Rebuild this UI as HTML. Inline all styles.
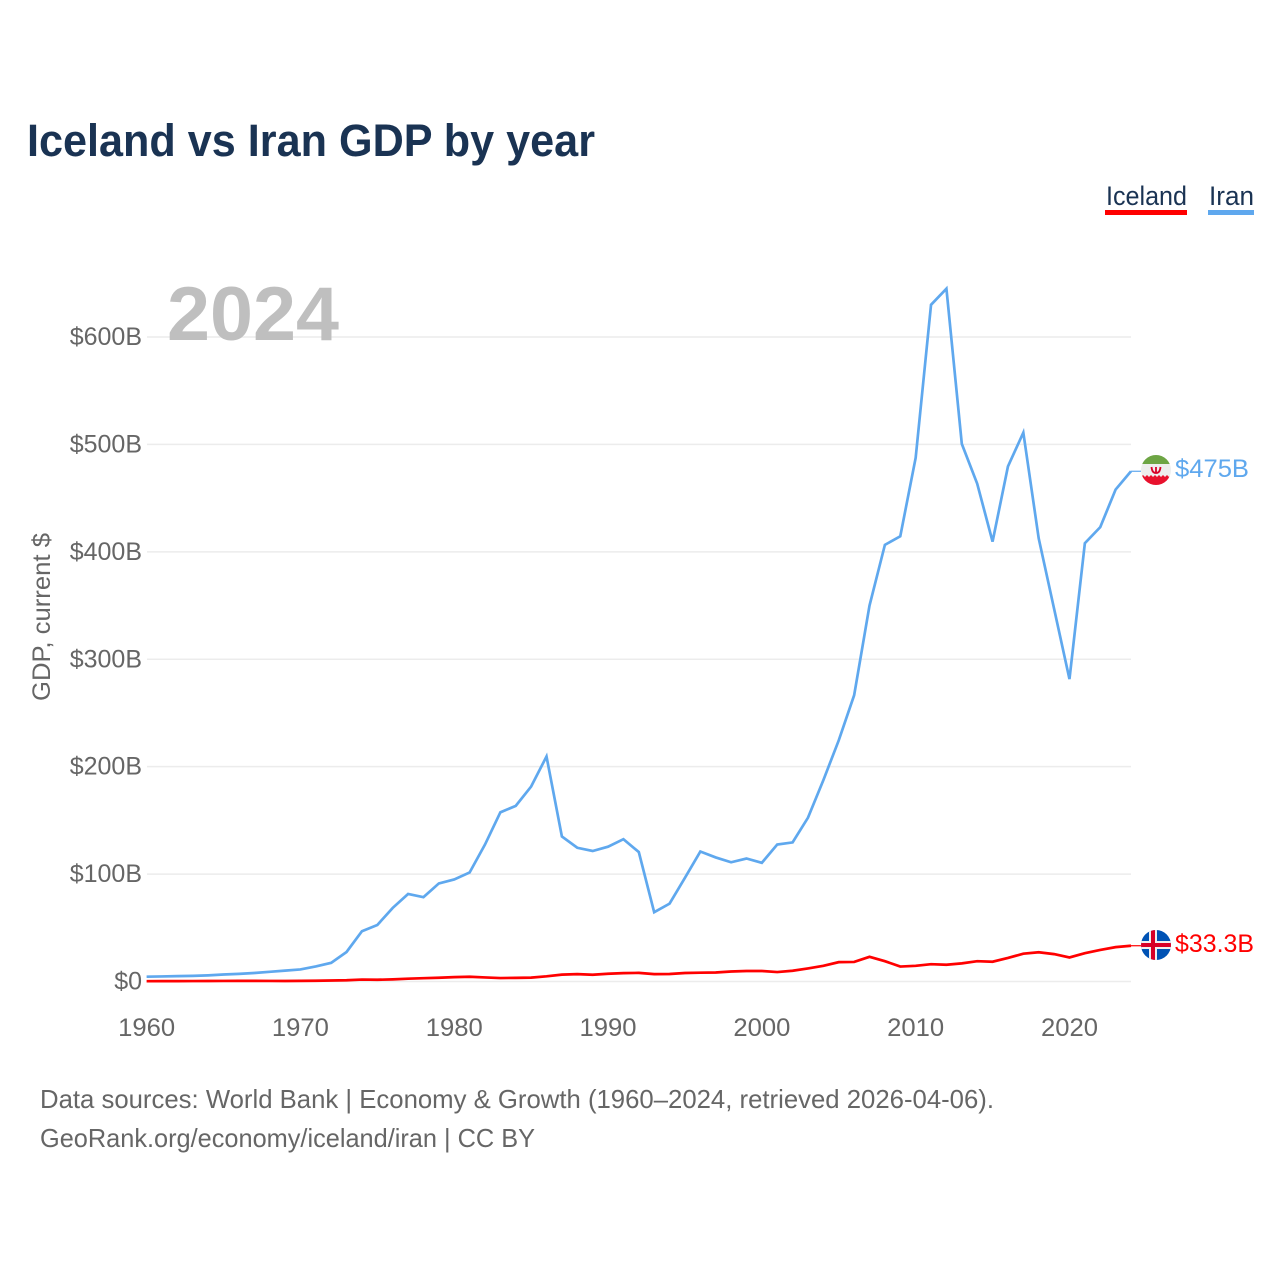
<!DOCTYPE html>
<html lang="en">
<head>
<meta charset="utf-8">
<title>Iceland vs Iran GDP by year</title>
<style>
html,body{margin:0;padding:0;background:#fff;width:1280px;height:1280px;overflow:hidden}
svg{display:block}
text{font-family:"Liberation Sans",sans-serif}
</style>
</head>
<body>
<svg id="chart" width="1280" height="1280" viewBox="0 0 1280 1280" xmlns="http://www.w3.org/2000/svg">
  <defs>
    <clipPath id="iran-clip"><circle cx="1156" cy="470" r="15"/></clipPath>
    <clipPath id="iceland-clip"><circle cx="1156" cy="945" r="15"/></clipPath>
  </defs>
  <rect width="1280" height="1280" fill="#fff"/>
  <text x="27" y="156" font-size="45" font-weight="700" fill="#1a3353" textLength="568" lengthAdjust="spacingAndGlyphs">Iceland vs Iran GDP by year</text>

  <g>
    <text x="1106" y="205" font-size="27" fill="#1a3353" textLength="81" lengthAdjust="spacingAndGlyphs">Iceland</text>
    <rect x="1105" y="210" width="82" height="5" fill="#ff0000"/>
  </g>
  <g>
    <text x="1209" y="205" font-size="27" fill="#1a3353" textLength="45" lengthAdjust="spacingAndGlyphs">Iran</text>
    <rect x="1208" y="210" width="46" height="5" fill="#5fa8ee"/>
  </g>

  <g id="grid"></g>
  <g id="y-ticks"></g>
  <g id="x-ticks"></g>

  <text x="167" y="340" font-size="76" font-weight="700" fill="#bfbfbf" textLength="172" lengthAdjust="spacingAndGlyphs">2024</text>

  <text transform="translate(50,701) rotate(-90)" font-size="25" fill="#666" textLength="168" lengthAdjust="spacingAndGlyphs">GDP, current $</text>

  <g id="series"></g>

  <g>
    <g clip-path="url(#iran-clip)">
      <rect x="1141" y="455" width="30" height="30" fill="#eeeeee"/>
      <rect x="1141" y="455" width="30" height="9" fill="#6da544"/>
      <rect x="1141" y="477" width="30" height="8" fill="#e8112d"/>
      <path d="M1141 477 l2 -2 2 2 2 -2 2 2 2 -2 2 2 2 -2 2 2 2 -2 2 2 2 -2 2 2 2 -2 2 2 2 -2 v2 z" fill="#e8112d"/>
      <path d="M1151.500 467 q0.500 6 4.500 6 q4 0 4.500 -6 M1156 467 v6" fill="none" stroke="#d80027" stroke-width="1.800"/>
    </g>
  </g>
  <g>
    <g clip-path="url(#iceland-clip)">
      <rect x="1141" y="930" width="30" height="30" fill="#0052b4"/>
      <rect x="1141" y="941" width="30" height="8" fill="#f0f0f0"/>
      <rect x="1149" y="930" width="8" height="30" fill="#f0f0f0"/>
      <rect x="1141" y="943" width="30" height="4" fill="#d80027"/>
      <rect x="1151" y="930" width="4" height="30" fill="#d80027"/>
    </g>
  </g>

  <text x="1175" y="477" font-size="25" fill="#5fa8ee" textLength="74" lengthAdjust="spacingAndGlyphs">$475B</text>
  <text x="1175" y="952" font-size="25" fill="#ff0000" textLength="79" lengthAdjust="spacingAndGlyphs">$33.3B</text>

  <text x="40" y="1108" font-size="26" fill="#666" textLength="954" lengthAdjust="spacingAndGlyphs">Data sources: World Bank | Economy &amp; Growth (1960–2024, retrieved 2026-04-06).</text>
  <text x="40" y="1147" font-size="26" fill="#666" textLength="495" lengthAdjust="spacingAndGlyphs">GeoRank.org/economy/iceland/iran | CC BY</text>
</svg>
<script>
const years = [1960,1961,1962,1963,1964,1965,1966,1967,1968,1969,1970,1971,1972,1973,1974,1975,1976,1977,1978,1979,1980,1981,1982,1983,1984,1985,1986,1987,1988,1989,1990,1991,1992,1993,1994,1995,1996,1997,1998,1999,2000,2001,2002,2003,2004,2005,2006,2007,2008,2009,2010,2011,2012,2013,2014,2015,2016,2017,2018,2019,2020,2021,2022,2023,2024];
const iranGdp = [4.5,4.7,5,5.2,5.7,6.5,7.1,7.9,9,10.1,11.2,14,17.4,27.5,46.8,52.6,68.5,81.5,78.5,91.3,95,101.5,127.5,157.5,163.5,181.5,209.5,135,124.5,121.5,125.5,132.5,120.5,64.5,72.5,96.5,121,115.5,111,114.5,110.5,127.5,129.5,152.5,187.5,224.5,266.5,350,406.5,414.5,487.5,630,645,500.5,463.5,409.5,479.5,511,412.5,347,281.5,408,423,458,475];
const icelandGdp = [0.3,0.32,0.35,0.4,0.45,0.5,0.6,0.6,0.5,0.45,0.55,0.7,0.95,1.15,1.8,1.6,2,2.6,3.1,3.5,4.1,4.4,3.8,3.2,3.4,3.6,4.8,6.4,6.9,6.3,7.2,7.8,8,6.9,7,7.9,8.2,8.4,9.3,9.8,9.8,8.8,10,12.2,14.6,18,18.2,23,18.9,13.9,14.6,16.1,15.6,16.9,18.9,18.4,21.9,25.9,27.2,25.5,22.4,26.4,29.4,32,33.3];
const yTickValues = [0,100,200,300,400,500,600];
const yTickLabels = ["$0","$100B","$200B","$300B","$400B","$500B","$600B"];
const xTickYears = [1960,1970,1980,1990,2000,2010,2020];

const NS = "http://www.w3.org/2000/svg";
const xScale = function (year) { return 146.6 + (year - 1960) * (1131 - 146.6) / 64; };
const yScale = function (value) { return 981.5 - value * (981.5 - 337) / 600; };

const gridGroup = document.getElementById("grid");
const yTickGroup = document.getElementById("y-ticks");
const xTickGroup = document.getElementById("x-ticks");
const seriesGroup = document.getElementById("series");

yTickValues.forEach(function (value, i) {
  const y = yScale(value);
  const line = document.createElementNS(NS, "line");
  
  
  line.setAttribute("x1", 147);
  line.setAttribute("x2", 1131);
  line.setAttribute("y1", y);
  line.setAttribute("y2", y);
  line.setAttribute("stroke", "#ececec");
  line.setAttribute("stroke-width", "1.500");
  gridGroup.appendChild(line);

  const label = document.createElementNS(NS, "text");
  
  
  label.setAttribute("x", 142);
  label.setAttribute("y", y + 8);
  label.setAttribute("text-anchor", "end");
  label.setAttribute("font-size", "25");
  label.setAttribute("fill", "#666");
  label.textContent = yTickLabels[i];
  yTickGroup.appendChild(label);
});

xTickYears.forEach(function (year) {
  const label = document.createElementNS(NS, "text");
  
  
  label.setAttribute("x", xScale(year));
  label.setAttribute("y", 1036);
  label.setAttribute("text-anchor", "middle");
  label.setAttribute("font-size", "25");
  label.setAttribute("fill", "#666");
  label.setAttribute("textLength", "57");
  label.setAttribute("lengthAdjust", "spacingAndGlyphs");
  label.textContent = year;
  xTickGroup.appendChild(label);
});

function drawSeries(values, colour, seriesName) {
  const d = values.map(function (v, i) {
    return (i ? "L" : "M") + xScale(years[i]).toFixed(2) + " " + yScale(v).toFixed(2);
  }).join(" ");
  const path = document.createElementNS(NS, "path");
  
  
  path.setAttribute("d", d);
  path.setAttribute("fill", "none");
  path.setAttribute("stroke", colour);
  path.setAttribute("stroke-width", "2.700");
  path.setAttribute("stroke-linejoin", "miter");
  seriesGroup.appendChild(path);

  const last = values[values.length - 1];
  const leader = document.createElementNS(NS, "line");
  
  
  leader.setAttribute("x1", xScale(years[years.length - 1]));
  leader.setAttribute("x2", 1141);
  leader.setAttribute("y1", yScale(last));
  leader.setAttribute("y2", yScale(last));
  leader.setAttribute("stroke", colour);
  leader.setAttribute("stroke-width", "1.200");
  seriesGroup.appendChild(leader);
}

drawSeries(iranGdp, "#5fa8ee", "iran-line");
drawSeries(icelandGdp, "#ff0000", "iceland-line");
</script>
</body>
</html>
